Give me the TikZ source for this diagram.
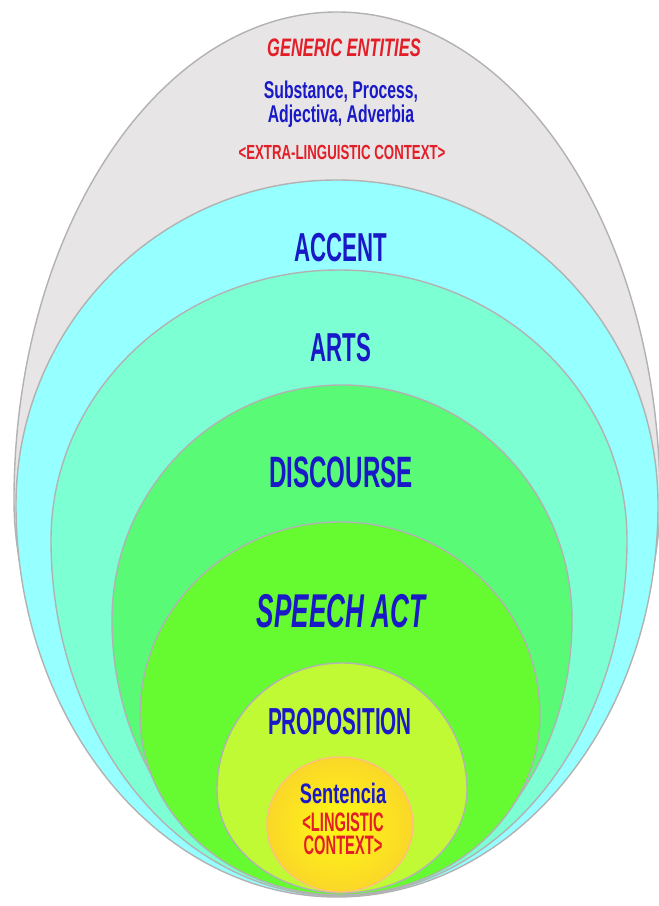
\documentclass[tikz,border=0pt]{standalone}
\usepackage{fontspec}
\setmainfont{Liberation Sans}
\newfontfamily\narrowfont[FakeStretch=0.55]{Liberation Sans}
\newfontfamily\semifont[FakeStretch=0.65]{Liberation Sans}
\usepackage{xcolor}
\usepackage{tikz}
\usetikzlibrary{positioning}

\definecolor{shellgray}{RGB}{231,229,229}
\definecolor{accentcyan}{RGB}{150,255,255}
\definecolor{artsaqua}{RGB}{125,255,212}
\definecolor{discgreen}{RGB}{88,250,118}
\definecolor{speechgreen}{RGB}{102,250,48}
\definecolor{propgreen}{RGB}{192,250,52}
\definecolor{sentyellow}{RGB}{255,250,20}
\definecolor{sentrim}{RGB}{250,215,40}
\definecolor{textblue}{RGB}{25,25,200}
\definecolor{textred}{RGB}{228,30,40}

\begin{document}
\begin{tikzpicture}[
    layer/.style={draw=black!30, line width=0.4pt},
    bigword/.style={font=\narrowfont\bfseries\fontsize{11.5}{12}\selectfont,
                    text=textblue, inner sep=0pt},
    smallword/.style={font=\semifont\bfseries\fontsize{6.9}{6.7}\selectfont,
                      text=textblue, inner sep=0pt, align=center}
]
\useasboundingbox (0,0) rectangle (6.59,9.06);
\clip (0,0) rectangle (6.59,9.06);

% nested shells, outside in
\filldraw[layer, fill=shellgray] (0.14,4.06)
    arc[start angle=180, end angle=0, x radius=3.23cm, y radius=4.88cm]
    arc[start angle=0, end angle=-180, x radius=3.23cm, y radius=3.30cm] -- cycle;
\filldraw[layer, fill=accentcyan] (0.16,4.01)
    arc[start angle=180, end angle=0, x radius=3.21cm, y radius=3.25cm]
    arc[start angle=0, end angle=-180, x radius=3.21cm, y radius=3.92cm] -- cycle;
\filldraw[layer, fill=artsaqua] (0.51,3.66)
    arc[start angle=180, end angle=0, x radius=2.88cm, y radius=2.70cm]
    arc[start angle=0, end angle=-180, x radius=2.88cm, y radius=3.56cm] -- cycle;
\filldraw[layer, fill=discgreen] (1.12,2.86)
    arc[start angle=180, end angle=0, x radius=2.30cm, y radius=2.35cm]
    arc[start angle=0, end angle=-180, x radius=2.30cm, y radius=2.76cm] -- cycle;
\filldraw[layer, fill=speechgreen] (1.40,1.91)
    arc[start angle=180, end angle=0, x radius=2.00cm, y radius=1.93cm]
    arc[start angle=0, end angle=-180, x radius=2.00cm, y radius=1.80cm] -- cycle;
\filldraw[layer, fill=propgreen] (2.17,1.16)
    arc[start angle=180, end angle=0, x radius=1.25cm, y radius=1.27cm]
    arc[start angle=0, end angle=-180, x radius=1.25cm, y radius=1.03cm] -- cycle;
\shadedraw[layer, draw=orange!50, inner color=sentyellow, outer color=sentrim] (2.67,0.81)
    arc[start angle=180, end angle=0, x radius=0.73cm, y radius=0.68cm]
    arc[start angle=0, end angle=-180, x radius=0.73cm, y radius=0.67cm] -- cycle;

% labels
\node[smallword, text=textred, font=\semifont\bfseries\itshape\fontsize{7.2}{7.2}\selectfont]
    (generic) at (3.44,8.58) {GENERIC ENTITIES};
\node[smallword] (kinds) at (3.41,8.02) {Substance, Process,\\Adjectiva, Adverbia};
\node[smallword, text=textred, font=\semifont\bfseries\fontsize{5.8}{6}\selectfont]
    (extctx) at (3.42,7.54) {<EXTRA-LINGUISTIC CONTEXT>};
\node[bigword] (accent) at (3.41,6.58) {ACCENT};
\node[bigword] (arts) at (3.41,5.58) {ARTS};
\node[bigword, font=\narrowfont\bfseries\fontsize{12.5}{13}\selectfont]
    (discourse) at (3.41,4.34) {DISCOURSE};
\node[bigword, font=\narrowfont\bfseries\itshape\fontsize{13.5}{14}\selectfont]
    (speechact) at (3.41,2.95) {SPEECH ACT};
\node[bigword, font=\narrowfont\bfseries\fontsize{10.7}{11}\selectfont]
    (proposition) at (3.40,1.84) {PROPOSITION};
\node[smallword, font=\semifont\bfseries\fontsize{8}{7}\selectfont]
    (sentencia) at (3.43,1.13) {Sentencia};
\node[smallword, text=textred, font=\narrowfont\bfseries\fontsize{7.6}{6.6}\selectfont,
      below=0.08 of sentencia] (lingctx) {<LINGISTIC\\CONTEXT>};

\end{tikzpicture}
\end{document}
